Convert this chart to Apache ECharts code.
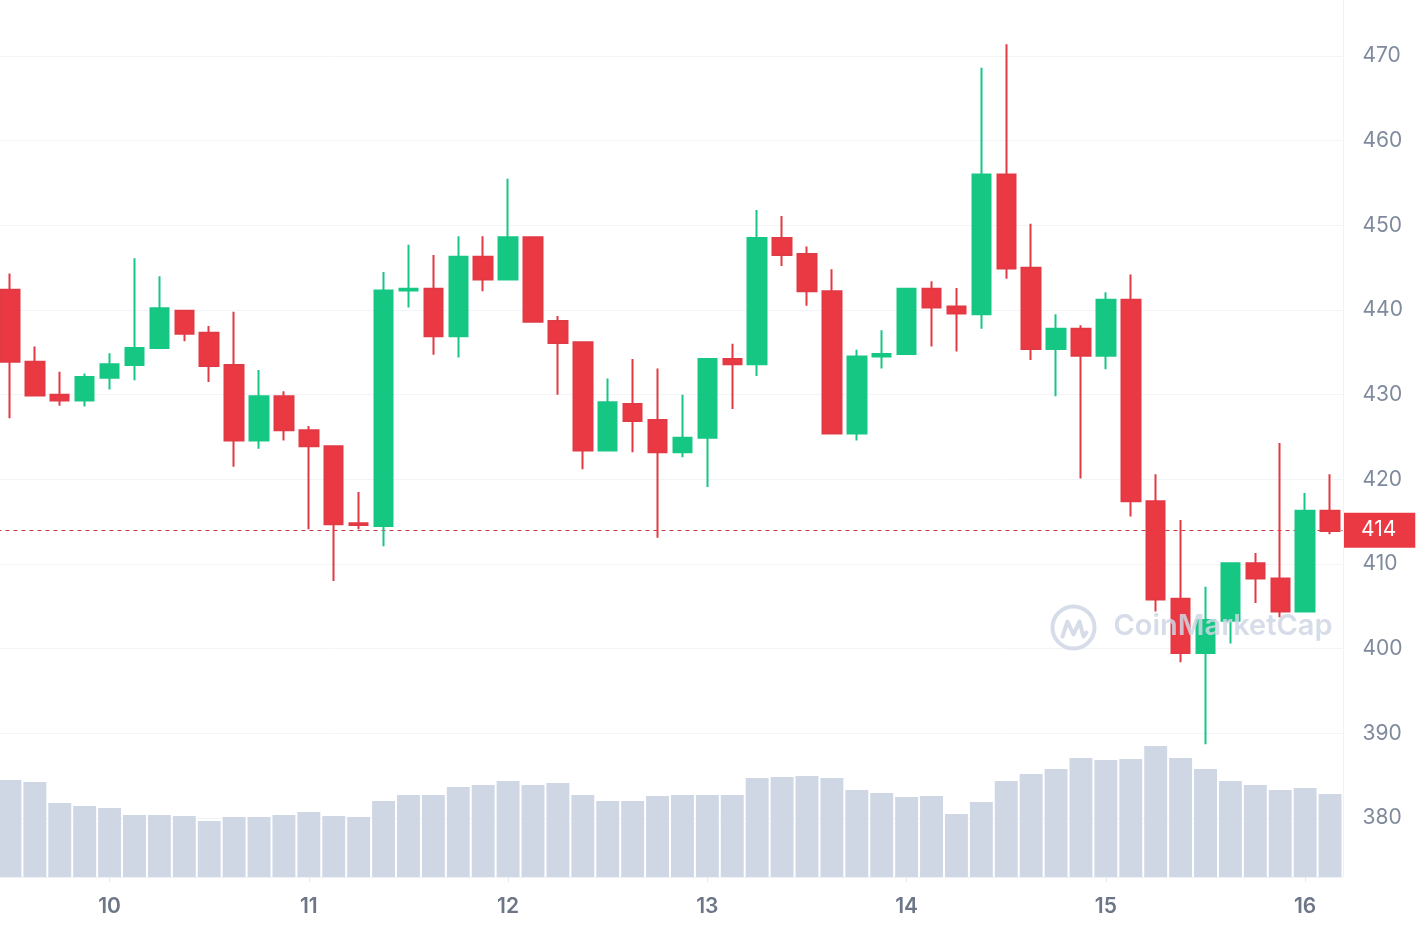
<!DOCTYPE html>
<html>
<head>
<meta charset="utf-8">
<script src="https://cdn.jsdelivr.net/npm/echarts@6/dist/echarts.min.js"></script>
<style>
html,body{margin:0;padding:0;background:#fff;overflow:hidden;}
#chart{width:1423px;height:930px;margin-left:-3px;}
</style>
</head>
<body>
<div id="chart"></div>
<script>
// 3-hour candles, day 9 12:00 -> day 16 03:00
const times = [];
(function(){ let d = 9, h = 12; for (let i = 0; i < 54; i++) { times.push(d + ' ' + String(h).padStart(2,'0') + ':00'); h += 3; if (h >= 24) { h = 0; d++; } } })();

const opens  = [442.4,433.9,430.0,429.3,432.0,433.5,435.5,439.9,437.3,433.5,424.6,429.8,425.8,423.9,414.8,414.5,442.3,442.5,436.9,446.3,443.6,448.6,438.7,436.2,423.4,428.9,427.0,423.2,424.9,434.2,433.6,448.5,446.6,442.2,425.4,434.5,434.8,442.5,440.4,439.5,456.0,445.0,435.4,437.8,434.6,441.2,417.4,405.9,399.5,403.3,410.1,408.3,404.4,416.3];
const closes = [433.9,429.9,429.3,432.1,433.6,435.5,440.2,437.2,433.4,424.6,429.8,425.8,423.9,414.7,414.6,442.3,442.5,436.9,446.3,443.6,448.6,438.6,436.1,423.4,429.1,426.9,423.2,424.9,434.2,433.6,448.5,446.5,442.2,425.4,434.5,434.8,442.5,440.3,439.6,456.0,444.9,435.4,437.8,434.6,441.2,417.4,405.8,399.5,403.4,410.1,408.3,404.4,416.3,413.9];
const lows   = [427.2,429.8,428.7,428.6,430.6,431.7,435.4,436.3,431.5,421.5,423.6,424.6,414.1,408.0,414.1,412.1,440.3,434.7,434.4,442.2,443.5,438.5,430.0,421.2,423.3,423.2,413.1,422.6,419.1,428.3,432.2,445.2,440.5,425.4,424.6,433.1,434.7,435.7,435.1,437.8,443.7,434.1,429.8,420.1,433.0,415.6,404.4,398.4,388.7,400.6,405.4,403.7,404.3,413.5];
const highs  = [444.3,435.7,432.7,432.5,434.9,446.1,444.0,440.0,438.1,439.8,432.9,430.4,426.3,423.9,418.5,444.5,447.7,446.5,448.7,448.7,455.5,448.6,439.3,436.2,431.9,434.2,433.1,430.0,434.3,436.0,451.8,451.1,447.5,444.8,435.3,437.6,442.6,443.4,442.6,468.6,471.4,450.2,439.5,438.2,442.1,444.2,420.6,415.2,407.3,410.1,411.3,424.3,418.4,420.6];
const volumes = [97,95,74,71,69,62,62,61,56,60,60,62,65,61,60,76,82,82,90,92,96,92,94,82,76,76,81,82,82,82,99,100,101,99,87,84,80,81,63,75,96,103,108,119,117,118,131,119,108,96,92,87,89,83];
const priceTicks = [380,390,400,410,420,430,440,450,460,470];
const currentPrice = 414;

const candleData = opens.map((o, i) => [o, closes[i], lows[i], highs[i]]);
const isDayStart = (idx, val) => /00:00$/.test(val);

const chart = echarts.init(document.getElementById('chart'), null, {renderer: 'canvas'});
const FONT = 'Inter, "Noto Sans", sans-serif';
const WM = '#cfd6e4';
chart.setOption({
  animation: false,
  backgroundColor: '#ffffff',
  grid: [
    {left: 0.5, right: 77.5, top: 56, height: 762, containLabel: false},
    {left: 0.5, right: 77.5, bottom: 53, height: 200, containLabel: false}
  ],
  xAxis: [
    {type: 'category', gridIndex: 0, data: times, boundaryGap: true, show: false},
    {type: 'category', gridIndex: 1, data: times, boundaryGap: true,
     axisLine: {show: true, lineStyle: {color: '#eff2f5', width: 1}},
     axisTick: {show: true, alignWithLabel: true, interval: isDayStart, length: 5, lineStyle: {color: '#e6e9ee'}},
     axisLabel: {interval: isDayStart, formatter: v => v.split(' ')[0], color: '#6d7687', fontSize: 21, fontWeight: 600, fontFamily: FONT, margin: 19},
     splitLine: {show: false}}
  ],
  yAxis: [
    {type: 'value', gridIndex: 0, position: 'right', min: priceTicks[0], max: priceTicks[priceTicks.length-1], interval: 10,
     axisLine: {show: false}, axisTick: {show: false},
     axisLabel: {color: '#808a9d', fontSize: 21, fontFamily: FONT, margin: 20, align: 'left'},
     splitLine: {show: true, lineStyle: {color: '#f2f4f7', width: 1}}},
    {type: 'value', gridIndex: 1, min: 0, max: 200, show: false, splitLine: {show: false}}
  ],
  series: [
    {type: 'bar', xAxisIndex: 1, yAxisIndex: 1, data: volumes, barCategoryGap: '8%',
     itemStyle: {color: '#cfd6e4'}, z: 1, silent: true},
    {type: 'candlestick', xAxisIndex: 0, yAxisIndex: 0, data: candleData, barWidth: '76%', clip: false, z: 5,
     itemStyle: {color: '#16c784', color0: '#ea3943', borderColor: '#16c784', borderColor0: '#e23a44', borderWidth: 2},
     markLine: {
       symbol: ['none','none'], silent: true, animation: false,
       lineStyle: {color: '#c0404a', type: [4,4], width: 1.2},
       label: {show: true, position: 'end', distance: 1.5, formatter: String(currentPrice),
               backgroundColor: '#ea3943', color: '#ffffff', fontSize: 21, fontFamily: FONT,
               padding: [7,19,7,17], lineHeight: 21},
       data: [{yAxis: currentPrice}]
     }}
  ],
  graphic: [
    {type: 'line', shape: {x1: 1346.5, y1: 0, x2: 1346.5, y2: 877}, style: {stroke: '#eff2f5', lineWidth: 1}, z: 0, silent: true},
    {type: 'group', left: 1053, top: 604, zlevel: 1, z: 100, silent: true, children: [
      {type: 'circle', zlevel: 1, z: 100, shape: {cx: 23, cy: 23, r: 21}, style: {fill: 'none', stroke: WM, lineWidth: 4, opacity: 0.85}},
      {type: 'polyline', zlevel: 1, z: 100, shape: {points: [[12,32],[17,17],[23,30],[29,17],[33,32],[36,28]]}, style: {fill: 'none', stroke: WM, lineWidth: 4, lineJoin: 'round', lineCap: 'round', opacity: 0.85}},
      {type: 'text', zlevel: 1, z: 100, left: 63, top: 7, style: {text: 'CoinMarketCap', fill: WM, opacity: 0.85, font: '600 29px ' + FONT}}
    ]}
  ]
});
</script>
</body>
</html>
